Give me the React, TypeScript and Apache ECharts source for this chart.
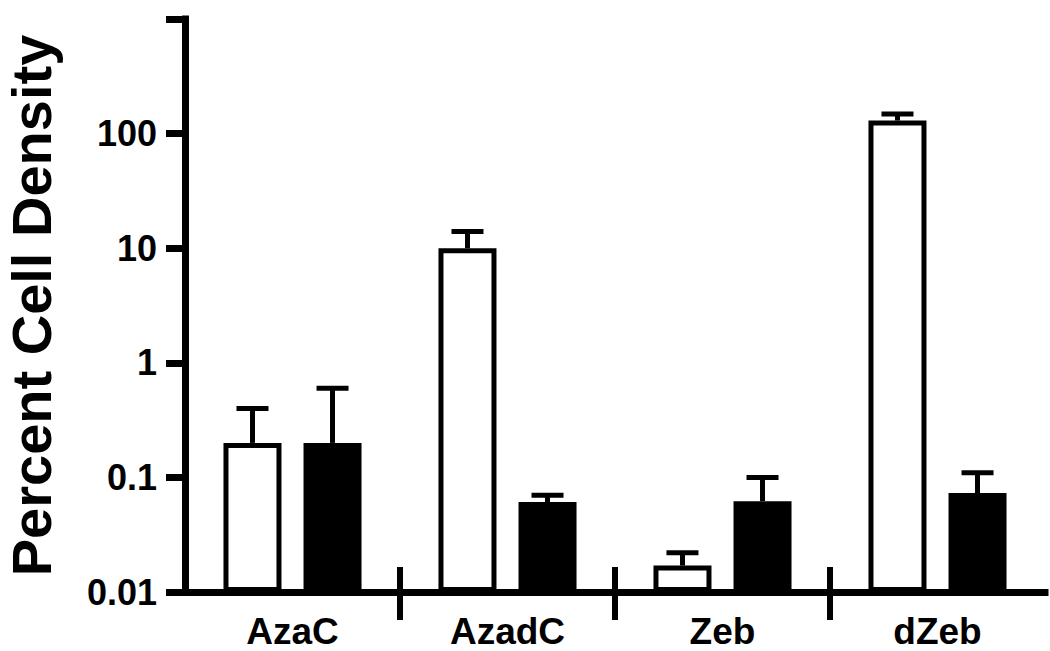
import React, { useEffect, useRef } from "react";
import * as echarts from "echarts";

const categories = ["AzaC", "AzadC", "Zeb", "dZeb"];
const openMeans = [0.2, 10, 0.017, 130];
const openUpper = [0.4, 14, 0.022, 148];
const filledMeans = [0.2, 0.061, 0.062, 0.073];
const filledUpper = [0.6, 0.07, 0.1, 0.11];
const separatorAt = [1, 2, 3];
const yMin = 0.01;
const yMax = 1000;
const hiddenTickLabels = [1000];

const FONT = "'Liberation Sans', Arial, Helvetica, sans-serif";
const BAR_W = 58;
const BAR_BORDER = 5;
const GAP_RATIO = 0.38;
const OFFSET = (BAR_W + BAR_W * GAP_RATIO) / 2;

const errorData = [
  ...openMeans.map((m, i) => [i, m, openUpper[i], -1]),
  ...filledMeans.map((m, i) => [i, m, filledUpper[i], 1]),
];

export default function App() {
  const ref = useRef<HTMLDivElement>(null);
  useEffect(() => {
    if (!ref.current) return;
    const chart = echarts.init(ref.current, null, { renderer: "svg" });
    chart.setOption({
      animation: false,
      backgroundColor: "#fff",
      grid: {
        left: 185,
        right: 5,
        top: 19,
        bottom: 59,
        containLabel: false,
        outerBoundsMode: "none",
      },
      xAxis: {
        type: "category",
        data: categories,
        axisLine: { lineStyle: { color: "#000", width: 7, cap: "square" } },
        axisTick: { show: false },
        axisLabel: {
          color: "#000",
          fontFamily: FONT,
          fontWeight: "bold",
          fontSize: 37,
          lineHeight: 37,
          margin: 21,
        },
      },
      yAxis: {
        type: "log",
        logBase: 10,
        min: yMin,
        max: yMax,
        startValue: yMin,
        name: "Percent Cell Density",
        nameLocation: "middle",
        nameGap: 126,
        nameTextStyle: {
          color: "#000",
          fontFamily: FONT,
          fontWeight: "bold",
          fontSize: 56,
          lineHeight: 56,
        },
        axisLine: { show: true, lineStyle: { color: "#000", width: 7, cap: "square" } },
        axisTick: { show: true, length: 19, lineStyle: { color: "#000", width: 7 } },
        splitLine: { show: false },
        axisLabel: {
          color: "#000",
          fontFamily: FONT,
          fontWeight: "bold",
          fontSize: 36,
          margin: 28,
          formatter: (v: number) => (hiddenTickLabels.includes(v) ? "" : String(v)),
        },
      },
      series: [
        {
          type: "bar",
          name: "Open",
          data: openMeans,
          barWidth: BAR_W,
          barGap: GAP_RATIO * 100 + "%",
          itemStyle: { color: "#fff", borderColor: "#000", borderWidth: BAR_BORDER },
        },
        {
          type: "bar",
          name: "Filled",
          data: filledMeans,
          barWidth: BAR_W,
          itemStyle: { color: "#000", borderColor: "#000", borderWidth: BAR_BORDER },
        },
        {
          type: "custom",
          name: "Error bars",
          z: 5,
          silent: true,
          clip: false,
          dimensions: ["cat", "mean", "upper", "dir"],
          encode: { x: 0, y: 1 },
          data: errorData,
          renderItem: (params: any, api: any) => {
            const i = api.value(0);
            const base = api.coord([i, api.value(1)]);
            const top = api.coord([i, api.value(2)]);
            const x = base[0] + api.value(3) * OFFSET;
            const style = { stroke: "#000", lineWidth: 5, lineCap: "butt" };
            return {
              type: "group",
              children: [
                { type: "line", shape: { x1: x, y1: base[1], x2: x, y2: top[1] }, style },
                { type: "line", shape: { x1: x - 16, y1: top[1], x2: x + 16, y2: top[1] }, style },
              ],
            };
          },
        },
        {
          type: "custom",
          name: "Separators",
          z: 6,
          silent: true,
          clip: false,
          data: separatorAt.map((s) => [s, yMin]),
          renderItem: (params: any, api: any) => {
            const i = api.value(0);
            const p0 = api.coord([0, yMin]);
            const p1 = api.coord([1, yMin]);
            const band = p1[0] - p0[0];
            const p = api.coord([i, yMin]);
            const x = p[0] - band / 2;
            return {
              type: "line",
              shape: { x1: x, y1: p[1] - 25, x2: x, y2: p[1] + 28 },
              style: { stroke: "#000", lineWidth: 6 },
            };
          },
        },
      ],
    });
    return () => chart.dispose();
  }, []);
  return (
    <div
      ref={ref}
      style={{ position: "fixed", left: 0, top: 0, width: 1050, height: 651, background: "#fff" }}
    />
  );
}
